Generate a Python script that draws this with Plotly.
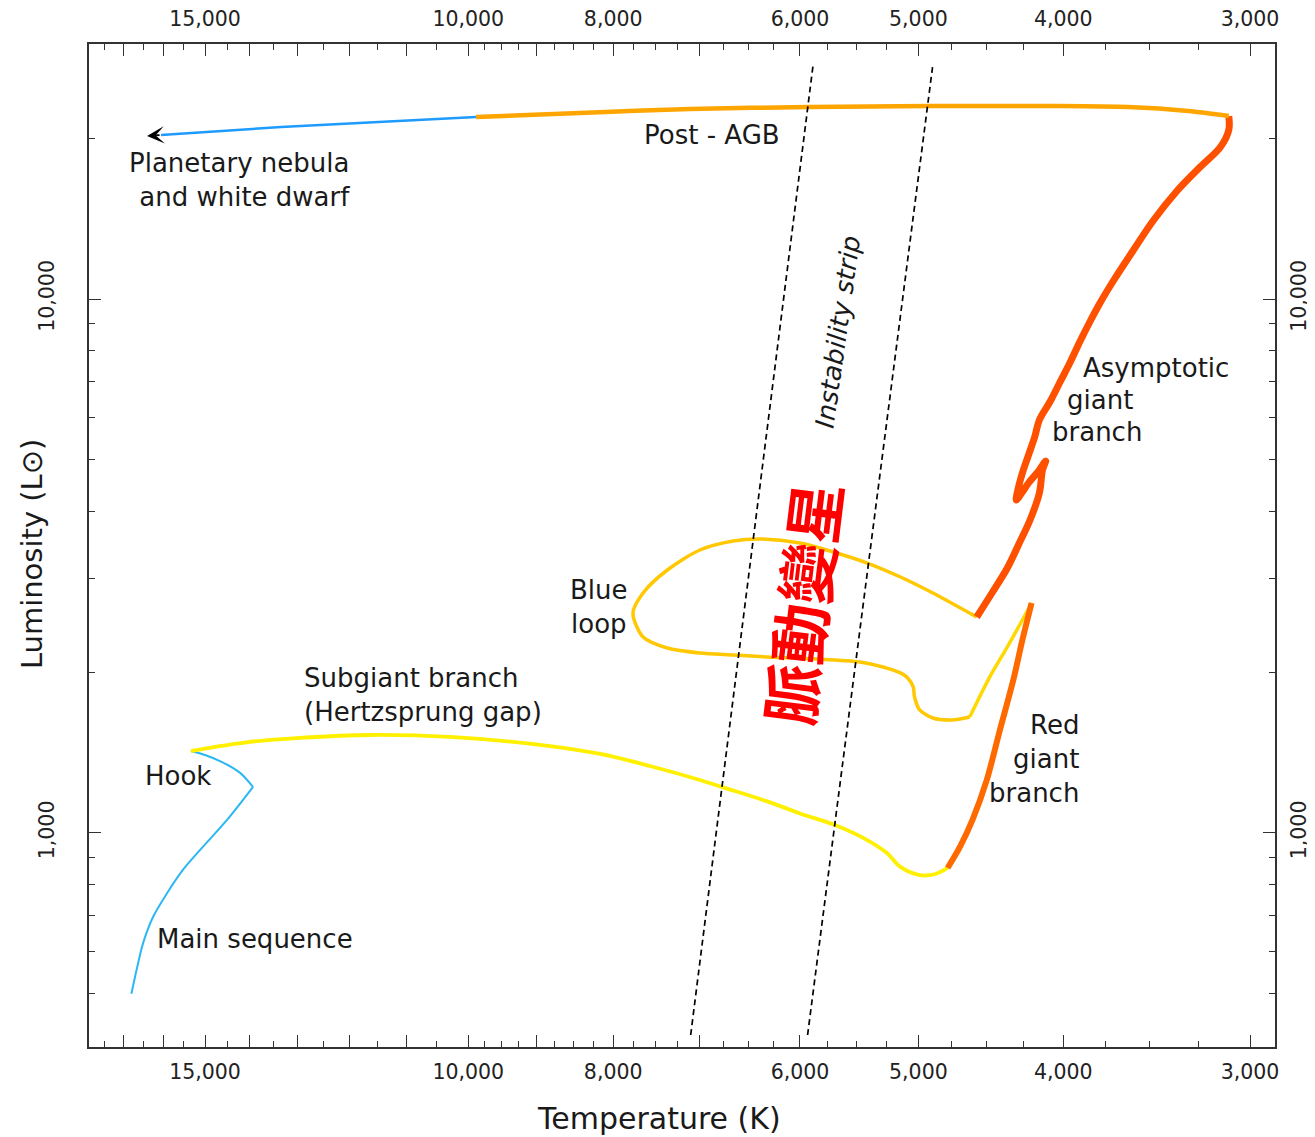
import numpy as np
import plotly.graph_objects as go

# ---------------- data (temperature K, luminosity Lsun) ----------------
ms_T = [16800, 16650, 16500, 16250, 15900, 15520, 15050, 14500, 13930]
ms_L = [500, 561, 622, 696, 772, 853, 942, 1058, 1220]

hook_T = [13930, 14210, 14610, 15000, 15330]
hook_L = [1220, 1296, 1358, 1400, 1424]

sg_T = [15330, 14000, 12960, 11630, 10290, 8820, 8160, 7560, 7000, 6770, 6310, 6000,
        5680, 5410, 5250, 5140, 4990, 4870, 4780]
sg_L = [1424, 1481, 1507, 1526, 1513, 1455, 1406, 1335, 1257, 1220, 1146, 1088,
        1034, 970, 918, 864, 834, 838, 860]

rgb_T = [4780, 4690, 4600, 4500, 4410, 4320, 4260, 4200]
rgb_L = [860, 942, 1058, 1257, 1559, 1934, 2298, 2696]

hb_T = [4200, 4260, 4360, 4480, 4620]
hb_L = [2696, 2505, 2230, 1959, 1649]

loop_T = [4620, 4690, 4760, 4890, 4990, 5030, 5040, 5090, 5140, 5280, 5470, 5850,
          6310, 6650, 7000, 7360, 7640, 7760, 7640, 7360, 7000, 6650, 6380, 6000,
          5700, 5410, 5140, 4890, 4570]
loop_L = [1649, 1635, 1628, 1642, 1700, 1798, 1877, 1959, 1994, 2046, 2090, 2118,
          2136, 2154, 2173, 2220, 2328, 2582, 2815, 3108, 3388, 3522, 3553, 3492,
          3359, 3203, 3016, 2815, 2538]

agb_T = [4570, 4460, 4360, 4280, 4210, 4150, 4130, 4110, 4160, 4220, 4260, 4300,
         4290, 4260, 4220, 4180, 4150, 4080, 4020, 3960, 3900, 3840, 3780, 3700,
         3590, 3480, 3360, 3240, 3140, 3100, 3100]
agb_L = [2538, 2827, 3135, 3492, 3856, 4332, 4784, 4973, 4743, 4523, 4351, 4203,
         4389, 4722, 5103, 5515, 5935, 6442, 6991, 7588, 8308, 9056, 9829, 10854,
         12353, 14059, 15900, 17669, 19260, 20725, 22010]

pagb_T = [3100, 3300, 3620, 4090, 4920, 5910, 7110, 8420, 9880]
pagb_L = [22010, 22494, 22885, 22984, 22984, 22885, 22689, 22301, 21920]

pn_T = [9880, 13340, 16050]
pn_L = [21920, 20994, 20283]
pn_tip_T = 16400
pn_tip_L = 20195

strip1_T = [7100, 5880]
strip2_T = [5930, 4890]
strip_L = [418.5, 27428]

# labels
label_texts = ["Post - AGB", "Hook", "Main sequence", "Blue<br>loop",
               "Asymptotic", "giant", "branch"]
label_T = [6870, 15640, 13890, 8180, 3470, 3780, 3800]
label_L = [20283, 1279, 633, 2645, 7427, 6469, 5636]

pn_label = "Planetary nebula<br>and white dwarf"
pn_label_T, pn_label_L = 11960, 16741
sg_label = "Subgiant branch<br>(Hertzsprung gap)"
sg_label_T, sg_label_L = 12920, 1813
rg_label = "Red<br>giant<br>branch"
rg_label_T, rg_label_L = 3890, 1376
strip_label = "Instability strip"
strip_label_T, strip_label_L = 5660, 8674
cn_label = "脈動變星"
cn_label_T, cn_label_L = 5990, 2696

# ticks
x_major = [3000, 4000, 5000, 6000, 7000, 8000, 9000, 10000, 11000, 12000, 13000,
           14000, 15000, 16000, 17000]
x_major_text = ["3,000", "4,000", "5,000", "6,000", "", "8,000", "", "10,000", "",
                "", "", "", "15,000", "", ""]
x_minor = [3250, 3500, 3750, 4250, 4500, 4750, 5250, 5500, 5750, 6250, 6500, 6750,
           7250, 7500, 7750, 8250, 8500, 8750, 9250, 9500, 9750, 10500, 11500,
           12500, 13500, 14500, 15500, 16500, 17500]
y_major = [1000, 10000]
y_major_text = ["1,000", "10,000"]
y_minor = [500, 600, 700, 800, 900, 2000, 3000, 4000, 5000, 6000, 7000, 8000,
           9000, 20000]

# ---------------- figure ----------------
FONT = "DejaVu Sans"
TXT = "#1a1a1a"
AX = "#333333"
LBL = 26

fig = go.Figure()


def add_line(T, L, color, width, shape="spline", smoothing=0.8, dash=None):
    fig.add_trace(go.Scatter(
        x=T, y=L, mode="lines",
        line=dict(color=color, width=width, shape=shape,
                  smoothing=smoothing if shape == "spline" else None, dash=dash),
        hoverinfo="skip", showlegend=False))


add_line(ms_T, ms_L, "#2bb8f2", 2, smoothing=1.0)
add_line(hook_T, hook_L, "#2bb8f2", 2)
add_line(sg_T, sg_L, "#fff000", 3.8, smoothing=1.0)
add_line(hb_T, hb_L, "#ffd800", 3.5)
add_line(loop_T, loop_L, "#ffc800", 3.5)
add_line(rgb_T, rgb_L, "#ff6a00", 6)
add_line(agb_T, agb_L, "#ff5000", 7, smoothing=1.0)
add_line(pagb_T, pagb_L, "#ffa500", 4.5)
add_line(pn_T, pn_L, "#1e9bff", 2.5)
add_line(strip1_T, strip_L, "#000000", 1.7, shape="linear", dash="6px,4px")
add_line(strip2_T, strip_L, "#000000", 1.7, shape="linear", dash="6px,4px")

# dummy traces to activate mirrored labelled axes
fig.add_trace(go.Scatter(x=[None], y=[None], xaxis="x2", yaxis="y",
                         showlegend=False, hoverinfo="skip"))
fig.add_trace(go.Scatter(x=[None], y=[None], xaxis="x", yaxis="y2",
                         showlegend=False, hoverinfo="skip"))

lg = np.log10
annots = []
for t, T, L in zip(label_texts, label_T, label_L):
    annots.append(dict(x=lg(T), y=lg(L), xref="x", yref="y", text=t,
                       xanchor="center", yanchor="middle",
                       showarrow=False, font=dict(family=FONT, size=LBL, color=TXT)))
annots.append(dict(x=lg(pn_label_T), y=lg(pn_label_L), xref="x", yref="y",
                   text=pn_label, align="right", xanchor="right", yanchor="middle",
                   showarrow=False, font=dict(family=FONT, size=LBL, color=TXT)))
annots.append(dict(x=lg(sg_label_T), y=lg(sg_label_L), xref="x", yref="y",
                   text=sg_label, align="left", xanchor="left", yanchor="middle",
                   showarrow=False, font=dict(family=FONT, size=LBL, color=TXT)))
annots.append(dict(x=lg(rg_label_T), y=lg(rg_label_L), xref="x", yref="y",
                   text=rg_label, align="right", xanchor="right", yanchor="middle",
                   showarrow=False, font=dict(family=FONT, size=LBL, color=TXT)))
annots.append(dict(x=lg(strip_label_T), y=lg(strip_label_L), xref="x", yref="y",
                   text="<i>" + strip_label + "</i>", textangle=-82,
                   xanchor="center", yanchor="middle", showarrow=False,
                   font=dict(family=FONT, size=LBL, color=TXT)))
annots.append(dict(x=lg(cn_label_T), y=lg(cn_label_L), xref="x", yref="y",
                   text=cn_label, textangle=-83, xanchor="center", yanchor="middle",
                   showarrow=False,
                   font=dict(family="Noto Sans CJK TC", size=61, color="#ff0000",
                             weight="bold")))
# arrow head of the planetary nebula track
annots.append(dict(x=lg(pn_tip_T), y=lg(pn_tip_L), xref="x", yref="y",
                   ax=lg(pn_T[-1]), ay=lg(pn_L[-1]), axref="x", ayref="y",
                   text="", showarrow=True, arrowhead=3, arrowsize=1.6,
                   arrowwidth=1.8, arrowcolor="#000000"))
# axis titles
annots.append(dict(x=0.4806, y=-0.0708, xref="paper", yref="paper",
                   xanchor="center", yanchor="middle",
                   text="Temperature (K)", showarrow=False,
                   font=dict(family=FONT, size=30, color=TXT)))
annots.append(dict(x=-0.048, y=0.4915, xref="paper", yref="paper",
                   xanchor="center", yanchor="middle",
                   text="Luminosity (L⊙)", textangle=-90, showarrow=False,
                   font=dict(family=FONT, size=29, color=TXT)))

x_range = [lg(17934), lg(2887)]
y_range = [lg(397.4), lg(30029)]

common_x = dict(type="log", range=x_range, tickmode="array", tickvals=x_major,
                ticktext=x_major_text, ticks="inside", ticklen=12, tickwidth=1.2,
                tickcolor=AX, showgrid=False, zeroline=False, automargin=False,
                tickfont=dict(family=FONT, size=20.5, color="#222"),
                minor=dict(tickmode="array", tickvals=x_minor, ticks="inside",
                           ticklen=6, tickwidth=1, tickcolor=AX, showgrid=False))
common_y = dict(type="log", range=y_range, tickmode="array", tickvals=y_major,
                ticktext=y_major_text, ticks="inside", ticklen=12, tickwidth=1.2,
                tickcolor=AX, showgrid=False, zeroline=False, tickangle=-90,
                automargin=False,
                tickfont=dict(family=FONT, size=20.5, color="#222"),
                minor=dict(tickmode="array", tickvals=y_minor, ticks="inside",
                           ticklen=6, tickwidth=1, tickcolor=AX, showgrid=False))

# the page body adds an 8px offset, so the figure is sized to end at the window edge
fig.update_layout(
    width=1307, height=1129, autosize=False,
    margin=dict(l=81, r=40, t=36, b=90, pad=0),
    paper_bgcolor="white", plot_bgcolor="white",
    showlegend=False,
    xaxis=dict(**common_x, showline=True, linecolor=AX, linewidth=1.5,
               mirror=True, ticklabelstandoff=6),
    xaxis2=dict(**common_x, side="top", overlaying="x", anchor="y",
                showline=False, ticklabelstandoff=13),
    yaxis=dict(**common_y, showline=True, linecolor=AX, linewidth=1.5,
               mirror=True, ticklabelstandoff=25),
    yaxis2=dict(**common_y, side="right", overlaying="y", anchor="x",
                showline=False, ticklabelstandoff=9),
    annotations=annots,
)

fig.write_html("out.html")
